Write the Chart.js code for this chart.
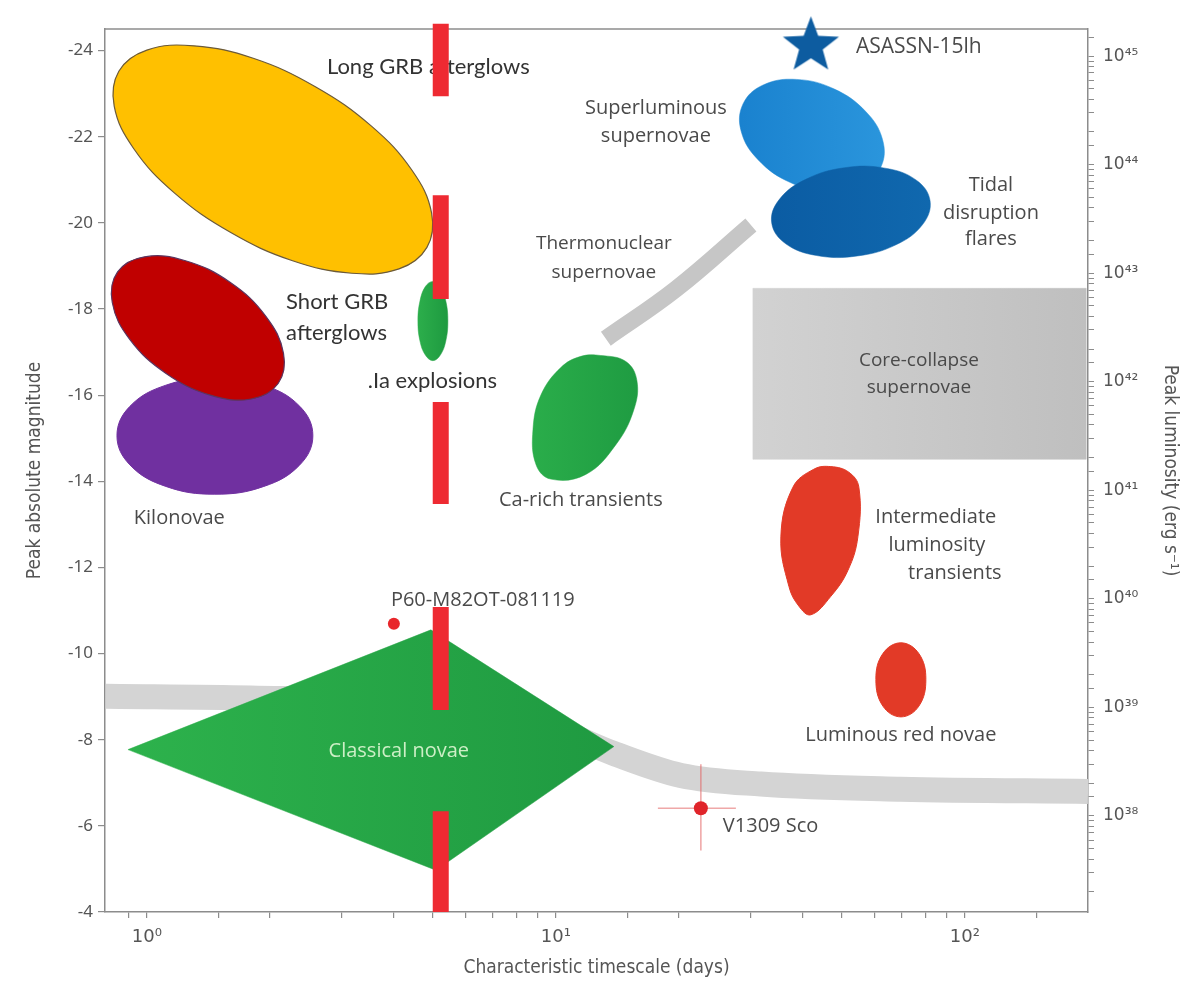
<!DOCTYPE html>
<html>
<head>
<meta charset="utf-8">
<script src="https://cdn.jsdelivr.net/npm/chart.js@4.4.1/dist/chart.umd.min.js"></script>
<style>
html,body{margin:0;padding:0;background:#ffffff;}
#wrap{width:1189px;height:981px;position:relative;}
</style>
</head>
<body>
<div id="wrap"><canvas id="c" width="1189" height="981"></canvas></div>
<script>
// ---------------- DATA (days, peak absolute magnitude) ----------------
// Long GRB afterglows (yellow ellipse outline)
const longGrbDays = [4.839, 4.135, 3.170, 2.271, 1.600, 1.169, 0.929, 0.832, 0.854, 1.000, 1.304, 1.820, 2.582, 3.535, 4.448, 4.967];
const longGrbMag  = [-19.43, -18.93, -18.83, -19.12, -19.78, -20.69, -21.72, -22.71, -23.52, -24.01, -24.11, -23.82, -23.16, -22.25, -21.22, -20.23];
// Kilonovae (purple)
const kiloDays = [2.546, 2.365, 1.932, 1.466, 1.113, 0.909, 0.845, 0.909, 1.113, 1.466, 1.932, 2.365];
const kiloMag  = [-15.06, -14.38, -13.88, -13.70, -13.88, -14.38, -15.06, -15.74, -16.23, -16.41, -16.23, -15.74];
// Short GRB afterglows (dark red)
const shortGrbDays = [2.094, 1.800, 1.429, 1.112, 0.909, 0.823, 0.848, 0.987, 1.243, 1.597, 1.954, 2.158];
const shortGrbMag  = [-16.27, -15.91, -16.00, -16.51, -17.29, -18.15, -18.86, -19.21, -19.12, -18.62, -17.83, -16.97];
// .Ia explosions (small green)
const dotIaDays = [5.444, 5.383, 5.218, 5.004, 4.796, 4.651, 4.599, 4.651, 4.796, 5.004, 5.218, 5.383];
const dotIaMag  = [-17.72, -17.26, -16.93, -16.80, -16.93, -17.26, -17.72, -18.18, -18.52, -18.64, -18.52, -18.18];
// Classical novae (green diamond)
const novaDays = [0.899, 4.948, 13.86, 5.089];
const novaMag  = [-7.77, -10.55, -7.84, -4.97];
// Ca-rich transients (green)
const caRichDays = [12.88, 14.83, 15.78, 15.51, 14.02, 11.84, 9.72, 8.94, 8.79, 9.19, 10.28, 11.51];
const caRichMag  = [-16.92, -16.78, -16.34, -15.66, -14.85, -14.16, -14.05, -14.39, -15.20, -16.00, -16.64, -16.90];
// Superluminous supernovae (light blue)
const slsnDays = [62.29, 55.59, 46.09, 37.34, 31.25, 28.39, 28.68, 32.12, 38.76, 47.83, 57.15, 62.92];
const slsnMag  = [-21.29, -20.84, -20.72, -20.94, -21.46, -22.12, -22.76, -23.20, -23.33, -23.11, -22.59, -21.93];
// Tidal disruption flares (dark blue)
const tdeDays = [82.21, 78.81, 67.85, 54.54, 43.44, 36.40, 33.70, 35.16, 40.83, 50.80, 63.77, 76.09];
const tdeMag  = [-20.51, -19.96, -19.49, -19.23, -19.24, -19.52, -20.00, -20.54, -21.01, -21.28, -21.27, -20.99];
// Core-collapse supernovae (grey box)
const ccsnDays = [30.32, 198, 198, 30.32];
const ccsnMag  = [-18.48, -18.48, -14.51, -14.51];
// Intermediate luminosity transients (red)
const iltDays = [47.03, 52.04, 55.06, 54.75, 51.76, 47.03, 42.03, 39.28, 37.13, 35.49, 37.97, 42.74];
const iltMag  = [-14.34, -14.21, -13.86, -12.71, -11.93, -11.33, -10.90, -11.10, -11.56, -12.71, -13.86, -14.28];
// Luminous red novae (red)
const lrnDays = [69.75, 77.18, 80.28, 77.18, 69.75, 63.03, 60.59, 63.03];
const lrnMag  = [-10.25, -10.00, -9.40, -8.78, -8.53, -8.78, -9.40, -10.00];
// Grey nova locus band
const bandDays = [0.794, 1.796, 4.178, 7.34, 10.28, 13.86, 20.21, 31.71, 69.75, 200];
const bandMag  = [-9.01, -8.97, -8.85, -8.55, -8.18, -7.68, -7.17, -6.97, -6.85, -6.80];
// Thermonuclear supernovae track
const thermoDays = [13.25, 19.65, 29.98];
const thermoMag  = [-17.31, -18.46, -19.95];
// Red dashed marker at ~5 days (segments: top, bottom magnitudes)
const redBarDay = 5.23;
const redBarTop    = [-24.62, -20.64, -15.84, -11.08, -6.34];
const redBarBottom = [-22.94, -18.23, -13.47, -8.69, -4.00];
// Individual objects
const p60Day = 4.017, p60Mag = -10.69;
const v1309Day = 22.62, v1309Mag = -6.41;
const v1309DayErr = [17.76, 27.55];
const v1309MagErr = [-7.43, -5.43];
const asassnDay = 42.03, asassnMag = -24.11;

// Tick labels
const xTickLabels = {1: '10\u2070', 10: '10\u00b9', 100: '10\u00b2'};
const supDigits = ['\u2070','\u00b9','\u00b2','\u00b3','\u2074','\u2075','\u2076','\u2077','\u2078','\u2079'];

// Region labels (text, anchor in days / magnitude)
const labelText = ['Long GRB afterglows', 'Superluminous', 'supernovae', 'Tidal', 'disruption', 'flares',
  'Thermonuclear', 'supernovae', 'Short GRB', 'afterglows', '.Ia explosions', 'Core-collapse', 'supernovae',
  'Ca-rich transients', 'Kilonovae', 'Intermediate', 'luminosity', 'transients', 'P60-M82OT-081119',
  'Luminous red novae', 'Classical novae', 'V1309 Sco', 'ASASSN-15lh'];
const labelDays = [2.755, 17.56, 17.56, 115.8, 115.8, 115.8, 13.10, 13.10, 2.19, 2.19, 3.47, 77.2, 77.2,
  11.51, 0.929, 84.9, 85.4, 94.5, 3.95, 69.75, 4.13, 25.6, 54.14];
const labelMag = [-23.63, -22.67, -22.02, -20.87, -20.21, -19.61, -19.52, -18.85, -18.16, -17.45, -16.34, -16.80, -16.18,
  -13.56, -13.15, -13.17, -12.51, -11.86, -11.24, -8.11, -7.72, -6.00, -24.09];

// ---------------- STYLES ----------------
const CAL = '22px Lato';
const NAT = '20px "Open Sans"';
const NAT19 = '19px "Open Sans"';
const labelFont = [CAL, NAT, NAT, NAT, NAT, NAT, NAT19, NAT19, CAL, CAL, CAL, NAT19, NAT19,
  NAT, NAT, NAT, NAT, NAT, NAT, NAT, NAT, NAT, '21px "Open Sans"'];
const labelAlign = ['left', 'center', 'center', 'center', 'center', 'center', 'center', 'center', 'left', 'left', 'left',
  'center', 'center', 'center', 'left', 'center', 'center', 'center', 'left', 'center', 'center', 'left', 'left'];
const labelColor = labelText.map((t, i) => i === 20 ? '#cdefc6' : (labelFont[i] === CAL ? '#333333' : '#4a4a4a'));

const axisGrey = '#8c8c8c';
const tickFont = {family: '"Noto Sans", "DejaVu Sans", sans-serif', size: 17};
const supFont = {family: '"DejaVu Sans", "Noto Sans", sans-serif', size: 17};
const titleFont = {family: '"Liberation Sans Narrow", "DejaVu Sans Condensed", "Roboto Condensed", sans-serif', size: 19};

// ---------------- BUILD DATASETS ----------------
function pts(xs, ys) { return xs.map((x, i) => ({x: x, y: ys[i]})); }

// horizontal gradient spanning a shape's own day range (pixel positions from the x scale)
function hGrad(xs, c0, c1) {
  return (context) => {
    const chart = context.chart; const sx = chart.scales && chart.scales.x;
    if (!chart.chartArea || !sx) return c0;
    const x0 = sx.getPixelForValue(Math.min.apply(null, xs));
    const x1 = sx.getPixelForValue(Math.max.apply(null, xs));
    if (!isFinite(x0) || !isFinite(x1) || x1 <= x0) return c0;
    const g = chart.ctx.createLinearGradient(x0, 0, x1, 0);
    g.addColorStop(0, c0); g.addColorStop(1, c1); return g;
  };
}

let drawSeq = 0;
const datasets = [];
function add(ds) { ds.order = 1000 - (drawSeq++); ds.xAxisID = 'x'; ds.yAxisID = 'y'; datasets.push(ds); }

function blob(label, xs, ys, fillColor, borderColor, borderWidth, tension) {
  add({label, data: pts(xs, ys), closedShape: true, showLine: true, fill: 'shape', backgroundColor: fillColor,
       borderColor: borderColor || fillColor, borderWidth: borderWidth == null ? 1 : borderWidth,
       tension: tension == null ? 0.4 : tension, pointRadius: 0, pointHoverRadius: 0});
}
function band(label, xs, ys, color, width, mode) {
  add({label, data: pts(xs, ys), showLine: true, fill: false, borderColor: color, borderWidth: width,
       tension: 0.4, cubicInterpolationMode: mode || 'default', pointRadius: 0, pointHoverRadius: 0, borderCapStyle: 'butt'});
}

band('Nova locus', bandDays, bandMag, '#d4d4d4', 25, 'monotone');
band('Thermonuclear supernovae', thermoDays, thermoMag, '#c6c6c6', 17);
const ccGrad = hGrad(ccsnDays, '#d2d2d2', '#bfbfbf');
blob('Core-collapse supernovae', ccsnDays, ccsnMag, ccGrad, ccGrad, 0.5, 0);
blob('Long GRB afterglows', longGrbDays, longGrbMag, '#ffc000', '#6b5a3a', 1.2);
blob('Kilonovae', kiloDays, kiloMag, '#7030a0', '#7030a0', 1);
blob('Short GRB afterglows', shortGrbDays, shortGrbMag, '#c00000', '#5a3560', 1.2);
const iaGrad = hGrad(dotIaDays, '#2cae4b', '#1e9a40');
blob('.Ia explosions', dotIaDays, dotIaMag, iaGrad, iaGrad, 0.5);
const novaGrad = hGrad(novaDays, '#2db24c', '#1f9a41');
blob('Classical novae', novaDays, novaMag, novaGrad, novaGrad, 0.5, 0);
const caGrad = hGrad(caRichDays, '#2aad4a', '#1f9c42');
blob('Ca-rich transients', caRichDays, caRichMag, caGrad, caGrad, 0.5);
const slGrad = hGrad(slsnDays, '#1a82cf', '#2a95dc');
blob('Superluminous supernovae', slsnDays, slsnMag, slGrad, slGrad, 0.5);
const tdGrad = hGrad(tdeDays, '#0b5ca3', '#1068ae');
blob('Tidal disruption flares', tdeDays, tdeMag, tdGrad, tdGrad, 0.5);
blob('Intermediate luminosity transients', iltDays, iltMag, '#e23a27', '#e23a27', 1);
blob('Luminous red novae', lrnDays, lrnMag, '#e23a27', '#e23a27', 1);

// V1309 Sco error bars
add({label: 'V1309 err x', data: pts(v1309DayErr, [v1309Mag, v1309Mag]), showLine: true, fill: false,
     borderColor: 'rgba(226,96,96,0.55)', borderWidth: 1.6, pointRadius: 0});
add({label: 'V1309 err y', data: pts([v1309Day, v1309Day], v1309MagErr), showLine: true, fill: false,
     borderColor: 'rgba(226,96,96,0.55)', borderWidth: 1.6, pointRadius: 0});
add({label: 'V1309 Sco', data: [{x: v1309Day, y: v1309Mag}], pointRadius: 7, backgroundColor: '#e0242a', borderWidth: 0});
add({label: 'P60-M82OT-081119', data: [{x: p60Day, y: p60Mag}], pointRadius: 6, backgroundColor: '#e8262b', borderWidth: 0});

// star marker
function starCanvas(color, R, inner) {
  const s = Math.ceil(2 * R + 2);
  const c = document.createElement('canvas'); c.width = s; c.height = s;
  const g = c.getContext('2d'); g.fillStyle = color; g.beginPath();
  for (let i = 0; i < 10; i++) {
    const r = i % 2 ? R * inner : R; const a = -Math.PI / 2 + i * Math.PI / 5;
    g.lineTo(s / 2 + r * Math.cos(a), s / 2 + r * Math.sin(a));
  }
  g.closePath(); g.fill(); return c;
}
add({label: 'ASASSN-15lh', data: [{x: asassnDay, y: asassnMag}], pointStyle: starCanvas('#0d5ca0', 29.5, 0.42),
     pointRadius: 29, borderWidth: 0, clip: false});

// red dashed marker segments
redBarTop.forEach((top, i) => {
  add({label: 'red marker ' + i, data: pts([redBarDay, redBarDay], [top, redBarBottom[i]]), showLine: true, fill: false,
       borderColor: '#ee2a32', borderWidth: 16, pointRadius: 0, borderCapStyle: 'butt', clip: false});
});

// ---------------- PLUGINS ----------------
// make closed shapes true loops (smooth closure, like radar lines)
const loopPlugin = {
  id: 'closedShapes',
  afterDatasetUpdate(chart, args) {
    const ds = chart.data.datasets[args.index];
    const line = args.meta.dataset;
    if (ds && ds.closedShape && line) {
      line._loop = true; line._fullLoop = true; line._pointsUpdated = false;
      delete line._segments; line._path = undefined;
    }
  }
};
const framePlugin = {
  id: 'frame',
  beforeDatasetsDraw(chart) {
    const {ctx, chartArea: a} = chart;
    ctx.save(); ctx.strokeStyle = axisGrey; ctx.lineWidth = 1.5;
    ctx.beginPath(); ctx.moveTo(a.left, a.top); ctx.lineTo(a.right, a.top); ctx.stroke(); ctx.restore();
  }
};
const labelPlugin = {
  id: 'regionLabels',
  afterDatasetDraw(chart, args) {
    if (chart.data.datasets[args.index].label !== 'ASASSN-15lh') return;
    const {ctx} = chart; const sx = chart.scales.x, sy = chart.scales.y;
    ctx.save(); ctx.textBaseline = 'middle';
    labelText.forEach((t, i) => {
      ctx.font = labelFont[i]; ctx.fillStyle = labelColor[i]; ctx.textAlign = labelAlign[i];
      ctx.fillText(t, sx.getPixelForValue(labelDays[i]), sy.getPixelForValue(labelMag[i]));
    });
    ctx.restore();
  }
};

function isPow10(v) { const l = Math.log10(v); return Math.abs(l - Math.round(l)) < 1e-6; }
function supNum(n) { return String(n).split('').map(d => supDigits[+d]).join(''); }

new Chart(document.getElementById('c'), {
  type: 'scatter',
  data: {datasets},
  options: {
    responsive: false, animation: false, devicePixelRatio: 1, events: [],
    layout: {padding: {top: 20, left: 0, right: 0, bottom: 0}},
    plugins: {legend: {display: false}, tooltip: {enabled: false}},
    scales: {
      x: {
        type: 'logarithmic', position: 'bottom', min: 0.79, max: 200,
        afterFit: s => { s.height = 69; },
        border: {display: true, color: axisGrey, width: 1.5},
        grid: {display: true, drawOnChartArea: false, drawTicks: true, tickLength: 6, color: axisGrey, lineWidth: 1.2},
        ticks: {autoSkip: false, maxRotation: 0, padding: 9, color: '#555', font: {family: supFont.family, size: 18},
          callback: (v, i, ticks) => {
            if (i === 0 || i === ticks.length - 1) return null;
            const r = Math.round(v);
            return (isPow10(v) && xTickLabels[r]) ? xTickLabels[r] : '';
          }},
        title: {display: true, text: 'Characteristic timescale (days)', color: '#555', font: titleFont, padding: {top: 0, bottom: 2}}
      },
      y: {
        type: 'linear', position: 'left', reverse: true, min: -24.5, max: -4,
        afterFit: s => { s.width = 105; },
        border: {display: true, color: axisGrey, width: 1.5},
        grid: {display: true, drawOnChartArea: false, drawTicks: true, tickLength: 7, color: axisGrey, lineWidth: 1.2},
        ticks: {stepSize: 2, includeBounds: false, padding: 5, color: '#555', font: tickFont,
          callback: v => String(v)},
        title: {display: true, text: 'Peak absolute magnitude', color: '#555', font: titleFont, padding: {top: 24, bottom: 0}}
      },
      y2: {
        type: 'logarithmic', position: 'right', min: 1.303e37, max: 1.778e45,
        afterFit: s => { s.width = 101; },
        border: {display: true, color: axisGrey, width: 1.5},
        grid: {display: true, drawOnChartArea: false, drawTicks: true, tickLength: 6, color: axisGrey, lineWidth: 1},
        ticks: {autoSkip: false, padding: 9, color: '#555', font: supFont,
          callback: (v, i, ticks) => {
            if (i === 0 || i === ticks.length - 1) return null;
            return isPow10(v) ? '10' + supNum(Math.round(Math.log10(v))) : '';
          }},
        title: {display: true, text: 'Peak luminosity (erg s\u207b\u00b9)', color: '#555', font: titleFont, padding: {top: 8, bottom: 0}}
      }
    }
  },
  plugins: [loopPlugin, framePlugin, labelPlugin]
});
</script>
</body>
</html>
